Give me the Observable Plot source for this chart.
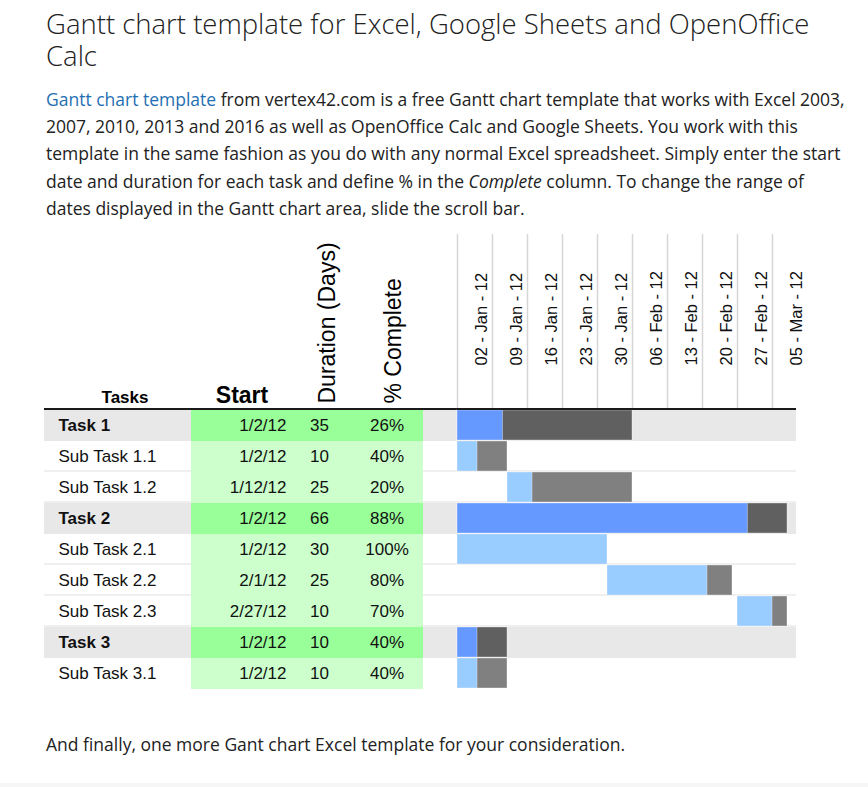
<!DOCTYPE html>
<html><head><meta charset="utf-8">
<script src="https://cdn.jsdelivr.net/npm/d3@7"></script>
<script src="https://cdn.jsdelivr.net/npm/@observablehq/plot@0.6"></script>
<style>
body{margin:0;background:#fff;width:868px;height:787px;position:relative;overflow:hidden;font-family:"Open Sans",sans-serif;color:#222}
.h1{position:absolute;left:46px;margin:0;font-weight:300;font-size:27.5px;line-height:30px;color:#222;white-space:nowrap}
.h1.l1{top:9px}
.h1.l2{top:41px}
p{position:absolute;left:46px;margin:0;font-size:17.5px;line-height:27.2px;white-space:nowrap;color:#222}
p.intro{top:86px}
p.outro{top:731px}
a{color:#1f6fb2;text-decoration:none}
#table{position:absolute;left:44px;top:230px}
#gantt{position:absolute;left:457px;top:230px}
.footer{position:absolute;left:0;right:0;bottom:0;height:4px;background:#f6f6f6}
g[aria-label="week-label"] text{letter-spacing:1.1px}
g[aria-label="row-label"] text{letter-spacing:-0.5px}
</style>
</head>
<body>
<div class="h1 l1">Gantt chart template for Excel, Google Sheets and OpenOffice</div>
<div class="h1 l2">Calc</div>
<p class="intro"><a href="#">Gantt chart template</a> from vertex42.com is a free Gantt chart template that works with Excel 2003,<br>2007, 2010, 2013 and 2016 as well as OpenOffice Calc and Google Sheets. You work with this<br>template in the same fashion as you do with any normal Excel spreadsheet. Simply enter the start<br>date and duration for each task and define % in the <em>Complete</em> column. To change the range of<br>dates displayed in the Gantt chart area, slide the scroll bar.</p>
<div id="table"></div>
<div id="gantt"></div>
<p class="outro">And finally, one more Gant chart Excel template for your consideration.</p>
<div class="footer"></div>
<script>
// ---- data ----
const tasks = ["Task 1","Sub Task 1.1","Sub Task 1.2","Task 2","Sub Task 2.1","Sub Task 2.2","Sub Task 2.3","Task 3","Sub Task 3.1"];
const isMain = [true,false,false,true,false,false,false,true,false];
const startDates = ["1/2/12","1/2/12","1/12/12","1/2/12","1/2/12","2/1/12","2/27/12","1/2/12","1/2/12"];
const durations = [35,10,25,66,30,25,10,10,10];
const pctComplete = [26,40,20,88,100,80,70,40,40];
const weekStarts = ["2012-01-02","2012-01-09","2012-01-16","2012-01-23","2012-01-30","2012-02-06","2012-02-13","2012-02-20","2012-02-27","2012-03-05"];
const headers = ["Tasks","Start","Duration (Days)","% Complete"];

// ---- derived table ----
const DAY = 864e5;
const parseStart = d3.utcParse("%m/%d/%y");
const rows = tasks.map((t,i)=>{
  const s = parseStart(startDates[i]);
  return {task:t, main:isMain[i], startLabel:startDates[i], start:s, dur:durations[i], pct:pctComplete[i],
    end:new Date(+s + durations[i]*DAY), done:new Date(+s + durations[i]*pctComplete[i]/100*DAY)};
});
const weeks = weekStarts.map(d=>d3.utcParse("%Y-%m-%d")(d));
const weekFmt = d3.utcFormat("%d - %b - %y");
const subRows = rows.filter(d=>!d.main);
const lastTask = tasks[tasks.length-1];

// ---- layout (pixels) ----
const H = 460, TOP = 180, BOTTOM = 1;
const TW = 413;              // table width
const GW = 339;              // gantt width
const col = {taskX:14, greenX1:147, greenX2:379, startR:242, durC:275, pctC:342.5,
             hTasks:80.5, hStart:197.5, hDur:274, hPct:340};
const font = "'Liberation Sans', Arial, sans-serif";
const yOpt = {type:"band", domain:tasks, padding:0, axis:null};

const table = Plot.plot({
  width:TW, height:H, marginTop:TOP, marginBottom:BOTTOM, marginLeft:0, marginRight:0,
  style:{fontFamily:font, overflow:"visible"},
  x:{type:"identity", axis:null}, y:yOpt, color:{type:"identity"},
  marks:[
    Plot.barX(rows, {y:"task", x1:0, x2:TW, fill:d=>d.main?"#e8e8e8":"#efefef"}),
    Plot.barX(subRows.filter(d=>d.task!==lastTask), {y:"task", x1:0, x2:TW, fill:"#fff", insetBottom:2}),
    Plot.barX(subRows.filter(d=>d.task===lastTask), {y:"task", x1:0, x2:TW, fill:"#fff"}),
    Plot.barX(rows, {y:"task", x1:col.greenX1, x2:col.greenX2, fill:d=>d.main?"#99ff99":"#ccffcc"}),
    Plot.barX([tasks[0]], {y:d=>d, x1:0, x2:TW, fill:"#1a1a1a", insetTop:-2, insetBottom:31}),
    Plot.text(rows.filter(d=>d.main), {y:"task", x:col.taskX, text:"task", textAnchor:"start", fontSize:17, fontWeight:"bold", fill:"#111", ariaLabel:"row-label"}),
    Plot.text(subRows, {y:"task", x:col.taskX, text:"task", textAnchor:"start", fontSize:17, fill:"#111", ariaLabel:"row-label"}),
    Plot.text(rows, {y:"task", x:col.startR, text:"startLabel", textAnchor:"end", fontSize:17, fill:"#111"}),
    Plot.text(rows, {y:"task", x:col.durC, text:d=>String(d.dur), fontSize:17, fill:"#111"}),
    Plot.text(rows, {y:"task", x:col.pctC, text:d=>d.pct+"%", fontSize:17, fill:"#111"}),
    Plot.text([headers[0]], {x:col.hTasks, frameAnchor:"top", dy:-8, lineAnchor:"bottom", text:d=>d, fontSize:17, fontWeight:"bold", fill:"#000"}),
    Plot.text([headers[1]], {x:col.hStart, frameAnchor:"top", dy:-8, lineAnchor:"bottom", text:d=>d, fontSize:23, fontWeight:"bold", fill:"#000"}),
    Plot.text([headers[2]], {x:col.hDur, frameAnchor:"top", dy:-7, rotate:-90, textAnchor:"start", text:d=>d, fontSize:23, fill:"#000"}),
    Plot.text([headers[3]], {x:col.hPct, frameAnchor:"top", dy:-7, rotate:-90, textAnchor:"start", text:d=>d, fontSize:23, fill:"#000"})
  ]
});
document.getElementById("table").append(table);

const d0 = weeks[0];
const dEnd = new Date(+d0 + GW/5*DAY);
const gantt = Plot.plot({
  width:GW, height:H, marginTop:TOP, marginBottom:BOTTOM, marginLeft:0, marginRight:0,
  style:{fontFamily:font, overflow:"visible"},
  x:{type:"utc", domain:[d0, dEnd], axis:null}, y:yOpt, color:{type:"identity"},
  marks:[
    Plot.ruleX(weeks, {x:d=>d, stroke:"#d6d6d6", strokeWidth:1.5, insetTop:-176, insetBottom:H-TOP-BOTTOM+2}),
    Plot.text(weeks, {x:d=>new Date(+d + 3.5*DAY), frameAnchor:"top", dy:-45, rotate:-90, textAnchor:"start", text:d=>weekFmt(d), fontSize:16.5, fill:"#111", ariaLabel:"week-label"}),
    Plot.barX(rows, {y:"task", x1:()=>d0, x2:()=>dEnd, fill:d=>d.main?"#e8e8e8":"#efefef"}),
    Plot.barX(subRows.filter(d=>d.task!==lastTask), {y:"task", x1:()=>d0, x2:()=>dEnd, fill:"#fff", insetBottom:2}),
    Plot.barX(subRows.filter(d=>d.task===lastTask), {y:"task", x1:()=>d0, x2:()=>dEnd, fill:"#fff"}),
    Plot.barX(rows, {y:"task", x1:"start", x2:"end", fill:d=>d.main?"#606060":"#808080", insetBottom:1, stroke:"#fff", strokeOpacity:0.35}),
    Plot.barX(rows, {y:"task", x1:"start", x2:"done", fill:d=>d.main?"#6699ff":"#99ccff", insetBottom:1, stroke:"#fff", strokeOpacity:0.35}),
    Plot.barX([tasks[0]], {y:d=>d, x1:()=>d0, x2:()=>dEnd, fill:"#1a1a1a", insetTop:-2, insetBottom:31})
  ]
});
document.getElementById("gantt").append(gantt);
</script>
</body></html>
